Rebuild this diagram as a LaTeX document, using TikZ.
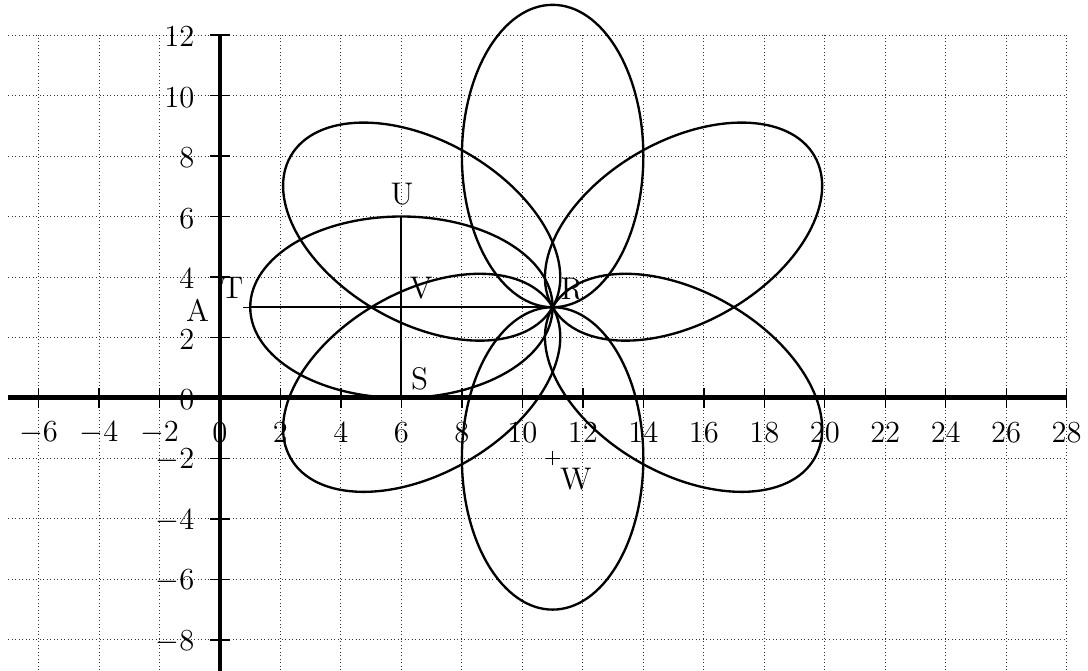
\documentclass[tikz,border=0pt]{standalone}
\usetikzlibrary{calc}
\begin{document}
\begin{tikzpicture}[x=0.5cm,y=0.5cm,
  gridline/.style={line width=0.45pt,dash pattern=on 0.45pt off 1.2pt,black!80},
  axisline/.style={line width=2.3pt},
  tickline/.style={line width=0.65pt},
  petal/.style={line width=1.1pt},
  seg/.style={line width=1pt},
  crossmark/.style={line width=0.5pt},
  lbl/.style={inner sep=0pt,font=\fontsize{14.7}{17}\selectfont},
  xlab/.style={lbl,anchor=center},
  ylab/.style={lbl,anchor=east}]
\useasboundingbox (-7.275,-9.03) rectangle (28.705,13.16);
% grid
\draw[gridline] (-7,-9) grid (28,12);
% axes
\draw[axisline] (-7,0) -- (28,0);
\draw[axisline] (0,-9.1) -- (0,12);
% ticks and labels
\foreach \k in {-6,-4,-2,2,4,6,8,10,12,14,16,18,20,22,24,26,28}
  \draw[tickline] (\k,-0.33) -- (\k,0.33);
\foreach \k in {-6,-4,-2,0,2,4,6,8,10,12,14,16,18,20,22,24,26,28}
  \node[xlab] (xl\k) at (\k,-1.15) {$\k$};
\foreach \k in {-8,-6,-4,-2,2,4,6,8,10,12}
  \draw[tickline] (-0.33,\k) -- (0.33,\k);
\foreach \k in {-8,-6,-4,-2,0,2,4,6,8,10,12}
  \node[ylab] (yl\k) at (-0.83,\k-0.06) {$\k$};
% points
\coordinate (R) at (11,3);
\coordinate (T) at (1,3);
\coordinate (A) at (0,3);
\coordinate (U) at (6,6);
\coordinate (S) at (6,0);
\coordinate (V) at (6,3);
\coordinate (W) at (11,-2);
% petals
\foreach \a in {30,90,150,180,210,270,330}
  \draw[petal,rotate around={\a:(R)}] (16,3) ellipse [x radius=5,y radius=3];
% segments
\draw[seg] (T) -- (R);
\draw[seg] (S) -- (U);
% cross marks
\draw[crossmark] ($(T)+(-0.23,0)$) -- ($(T)+(0.23,0)$) ($(T)+(0,-0.23)$) -- ($(T)+(0,0.23)$);
\draw[crossmark] ($(W)+(-0.23,0)$) -- ($(W)+(0.23,0)$) ($(W)+(0,-0.23)$) -- ($(W)+(0,0.23)$);
% labels
\node[lbl] (Ul) at ($(U)+(0.02,0.75)$) {U};
\node[lbl] (Vl) at ($(V)+(0.65,0.64)$) {V};
\node[lbl] (Sl) at ($(S)+(0.6,0.63)$) {S};
\node[lbl] (Rl) at ($(R)+(0.64,0.6)$) {R};
\node[lbl] (Tl) at ($(T)+(-0.6,0.64)$) {T};
\node[lbl] (Al) at ($(A)+(-0.74,-0.09)$) {A};
\node[lbl] (Wl) at ($(W)+(0.77,-0.68)$) {W};
\end{tikzpicture}
\end{document}
